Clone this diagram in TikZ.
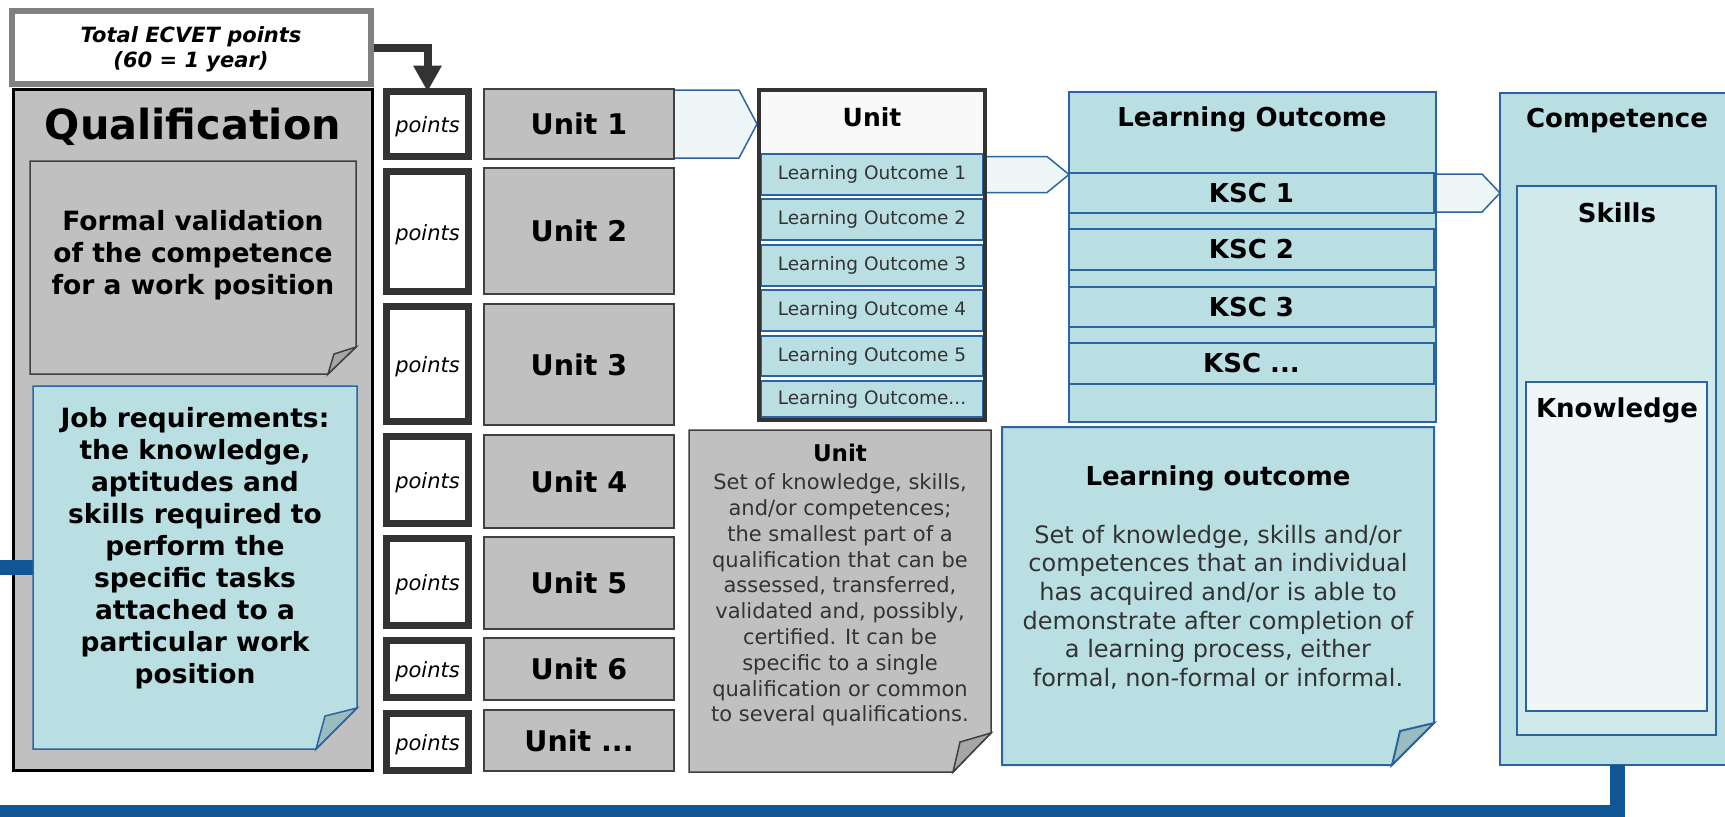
\documentclass[tikz,border=0pt]{standalone}
\usepackage{fontspec}
\setmainfont{DejaVu Sans}
\usetikzlibrary{fit,calc,arrows.meta}
\pgfdeclarelayer{bg}
\pgfsetlayers{bg,main}
\newcommand\myfs[2]{\fontsize{#1pt}{#2pt}\selectfont}
\newcommand\mydots{...}
\definecolor{qgray}{HTML}{C0C0C0}
\definecolor{lblue}{HTML}{B9DFE3}
\definecolor{bblue}{HTML}{2A64A2}
\definecolor{dblue}{HTML}{105594}
\definecolor{pale}{HTML}{EEF6F8}
\definecolor{skl}{HTML}{D0E9EB}
\definecolor{foldgray}{HTML}{A6A6A6}
\definecolor{foldblue}{HTML}{9BBCBF}
\definecolor{dark}{HTML}{333333}
\definecolor{dgray}{HTML}{404040}
\definecolor{tgray}{HTML}{808080}
\definecolor{hdr}{HTML}{F9F9F9}
\begin{document}
\begin{tikzpicture}[x=0.5pt,y=-0.5pt,
  box/.style={inner sep=0pt,outer sep=0pt},
  ptbox/.style={box,draw=dark,line width=3.5pt,fill=white},
  pttext/.style={font={\itshape\myfs{10.5}{12}}},
  unitbox/.style={box,draw=dgray,line width=1pt,fill=qgray},
  unittext/.style={font={\bfseries\myfs{14.25}{17}}},
  lorow/.style={box,draw=bblue,line width=0.75pt,fill=lblue},
  lotext/.style={text=dark,font={\myfs{9.25}{11}}},
  kscrow/.style={box,draw=bblue,line width=1pt,fill=lblue},
  ksctext/.style={font={\bfseries\myfs{13}{15}}},
  bluebox/.style={box,draw=bblue,line width=1pt},
  pent/.style={fill=pale,draw=bblue,line width=0.75pt,line join=miter},
  title/.style={font={\bfseries\myfs{13}{15}}},
  bodytext/.style={align=center,text=dark}]
\useasboundingbox (0,0) rectangle (1725,816);
\begin{pgfonlayer}{bg}
\fill[white] (0,0) rectangle (1725,816);
\end{pgfonlayer}

% Total ECVET points
\node[box,fit={(12,11) (371,84)},draw=tgray,line width=3pt,fill=white] (total) {};
\node[font={\bfseries\itshape\myfs{10.5}{12.5}},align=center] (totaltxt) at (191,49) {Total ECVET points\\(60 = 1 year)};

% Qualification
\node[box,fit={(13.5,89.5) (372.5,770.5)},draw=black,line width=1.5pt,fill=qgray] (qual) {};
\node[font={\bfseries\myfs{20.7}{24}}] (qualtxt) at (193,127) {Qualification};

% Formal validation note
\node[box,fit={(30,161) (356,374)}] (formal) {};
\filldraw[fill=qgray,draw=dgray,line width=0.75pt,line join=miter]
  (formal.north west) -- (formal.north east) -- ($(formal.south east)+(0,-27)$)
  -- ($(formal.south east)+(-28,0)$) -- (formal.south west) -- cycle;
\filldraw[fill=foldgray,draw=dgray,line width=0.75pt,line join=miter]
  ($(formal.south east)+(0,-27)$) -- ($(formal.south east)+(-22,-20)$) -- ($(formal.south east)+(-28,0)$) -- cycle;
\node[font={\bfseries\myfs{13.25}{16}},align=center] (formaltxt) at (193,255) {Formal validation\\of the competence\\for a work position};

% Job requirements note
\node[box,fit={(33,386) (357,749)}] (job) {};
\draw[dblue,line width=7.5pt] (job.west) -- (0,567.5) coordinate (lend);
\filldraw[fill=lblue,draw=bblue,line width=0.75pt,line join=miter]
  (job.north west) -- (job.north east) -- ($(job.south east)+(0,-41)$)
  -- ($(job.south east)+(-41,0)$) -- (job.south west) -- cycle;
\filldraw[fill=foldblue,draw=bblue,line width=0.75pt,line join=miter]
  ($(job.south east)+(0,-41)$) -- ($(job.south east)+(-32,-33)$) -- ($(job.south east)+(-41,0)$) -- cycle;
\node[font={\bfseries\myfs{13.25}{16}},align=center] (jobtxt) at (195,548.5) {Job requirements:\\the knowledge,\\aptitudes and\\skills required to\\perform the\\specific tasks\\attached to a\\particular work\\position};

% Points boxes
\foreach \i/\a/\b in {1/88/160,2/168/295,3/303/425,4/433/527,5/535/629,6/637/701,7/710/774}{
  \node[ptbox,fit={(386.5,\a+3.5) (468.5,\b-3.5)}] (p\i) {};
  \node[pttext] (pt\i) at ($(p\i.center)+(0,3)$) {points};}

% Unit boxes
\foreach \i/\a/\b/\t in {1/89/159/1,2/168/294/2,3/304/425/3,4/435/528/4,5/537/629/5,6/638/700/6,7/710/771/\mydots}{
  \node[unitbox,fit={(484,\a) (674,\b)}] (u\i) {};
  \node[unittext] (ut\i) at (u\i.center) {Unit \t};}

% Unit detail box
\node[box,fit={(759,90) (985,420)},fill=white] (ud) {};
\node[box,fit={(761,92) (983,153)},fill=hdr] (udh) {};
\node[font={\bfseries\myfs{12.5}{15}}] (udtxt) at (872,117) {Unit};
\foreach \i/\a/\b/\t in {1/154/195/ 1,2/199/240/ 2,3/245/286/ 3,4/290/331/ 4,5/336/376/ 5,6/381/417/\mydots}{
  \node[lorow,fit={(761,\a) (983,\b)}] (lo\i) {};
  \node[lotext] (lot\i) at (lo\i.center) {Learning Outcome\t};}
\draw[dark,line width=2pt] (ud.north west) rectangle (ud.south east);

% Unit note
\node[box,fit={(689,430) (991,772)}] (unote) {};
\filldraw[fill=qgray,draw=dgray,line width=0.75pt,line join=miter]
  (unote.north west) -- (unote.north east) -- ($(unote.south east)+(0,-39)$)
  -- ($(unote.south east)+(-38,0)$) -- (unote.south west) -- cycle;
\filldraw[fill=foldgray,draw=dgray,line width=0.75pt,line join=miter]
  ($(unote.south east)+(0,-39)$) -- ($(unote.south east)+(-31,-30)$) -- ($(unote.south east)+(-38,0)$) -- cycle;
\node[font={\bfseries\myfs{11.5}{13}}] (unotetitle) at (840,453) {Unit};
\node[bodytext,font={\myfs{10.5}{12.9}}] (unotebody) at (840,600) {Set of knowledge, skills,\\and/or competences;\\the smallest part of a\\qualification that can be\\assessed, transferred,\\validated and, possibly,\\certified. It can be\\specific to a single\\qualification or common\\to several qualifications.};

% Learning Outcome box
\node[bluebox,fit={(1069,92) (1436,422)},fill=lblue] (lob) {};
\node[title] (lobtxt) at (1252,119) {Learning Outcome};
\foreach \i/\a/\b/\t in {1/173/213/1,2/229/270/2,3/287/327/3,4/343/384/\mydots}{
  \node[kscrow,fit={(1069,\a) (1434,\b)}] (k\i) {};
  \node[ksctext] (kt\i) at (k\i.center) {KSC \t};}

% Learning outcome note
\node[box,fit={(1002,427) (1434,765)}] (lonote) {};
\filldraw[fill=lblue,draw=bblue,line width=1pt,line join=miter]
  (lonote.north west) -- (lonote.north east) -- ($(lonote.south east)+(0,-42)$)
  -- ($(lonote.south east)+(-42,0)$) -- (lonote.south west) -- cycle;
\filldraw[fill=foldblue,draw=bblue,line width=1pt,line join=miter]
  ($(lonote.south east)+(0,-42)$) -- ($(lonote.south east)+(-34,-34)$) -- ($(lonote.south east)+(-42,0)$) -- cycle;
\node[title] (lonotetitle) at (1218,478) {Learning outcome};
\node[bodytext,font={\myfs{12}{14.3}}] (lonotebody) at (1218,607) {Set of knowledge, skills and/or\\competences that an individual\\has acquired and/or is able to\\demonstrate after completion of\\a learning process, either\\formal, non-formal or informal.};

% Competence
\node[bluebox,fit={(1500,93) (1734,765)},fill=lblue] (comp) {};
\node[title] (comptxt) at (1617,121) {Competence};
\node[bluebox,fit={(1517,186) (1716,735)},fill=skl,line width=0.75pt] (skills) {};
\node[title] (skillstxt) at (1617,213) {Skills};
\node[bluebox,fit={(1526,382) (1707,711)},fill=pale,line width=0.75pt] (know) {};
\node[title] (knowtxt) at (1617,410) {Knowledge};

% bottom blue connector
\coordinate (bend) at (0,811);
\draw[dblue,line width=7.5pt] (comp.south) -- ($(comp.south |- bend)+(0,6)$);
\draw[dblue,line width=6pt] ($(comp.south |- bend)+(7.5,0)$) -- (bend);

% background connectors
\begin{pgfonlayer}{bg}
\draw[dark,line width=4pt,-{Triangle[width=13.5pt,length=13pt]}] (total.east) -| (p1.north);
\path[pent] ($(u1.east)+(0,-34)$) -- ($(ud.west |- u1.east)+(-20,-34)$) -- ($(ud.west |- u1.east)+(-2,0)$)
  -- ($(ud.west |- u1.east)+(-20,34)$) -- ($(u1.east)+(0,34)$) -- cycle;
\path[pent] ($(lo1.east)+(0,-18)$) -- ($(lob.west |- lo1.east)+(-22,-18)$) -- (lob.west |- lo1.east)
  -- ($(lob.west |- lo1.east)+(-22,18)$) -- ($(lo1.east)+(0,18)$) -- cycle;
\path[pent] ($(k1.east)+(0,-19)$) -- ($(comp.west |- k1.east)+(-18,-19)$) -- (comp.west |- k1.east)
  -- ($(comp.west |- k1.east)+(-18,19)$) -- ($(k1.east)+(0,19)$) -- cycle;
\end{pgfonlayer}
\end{tikzpicture}
\end{document}
